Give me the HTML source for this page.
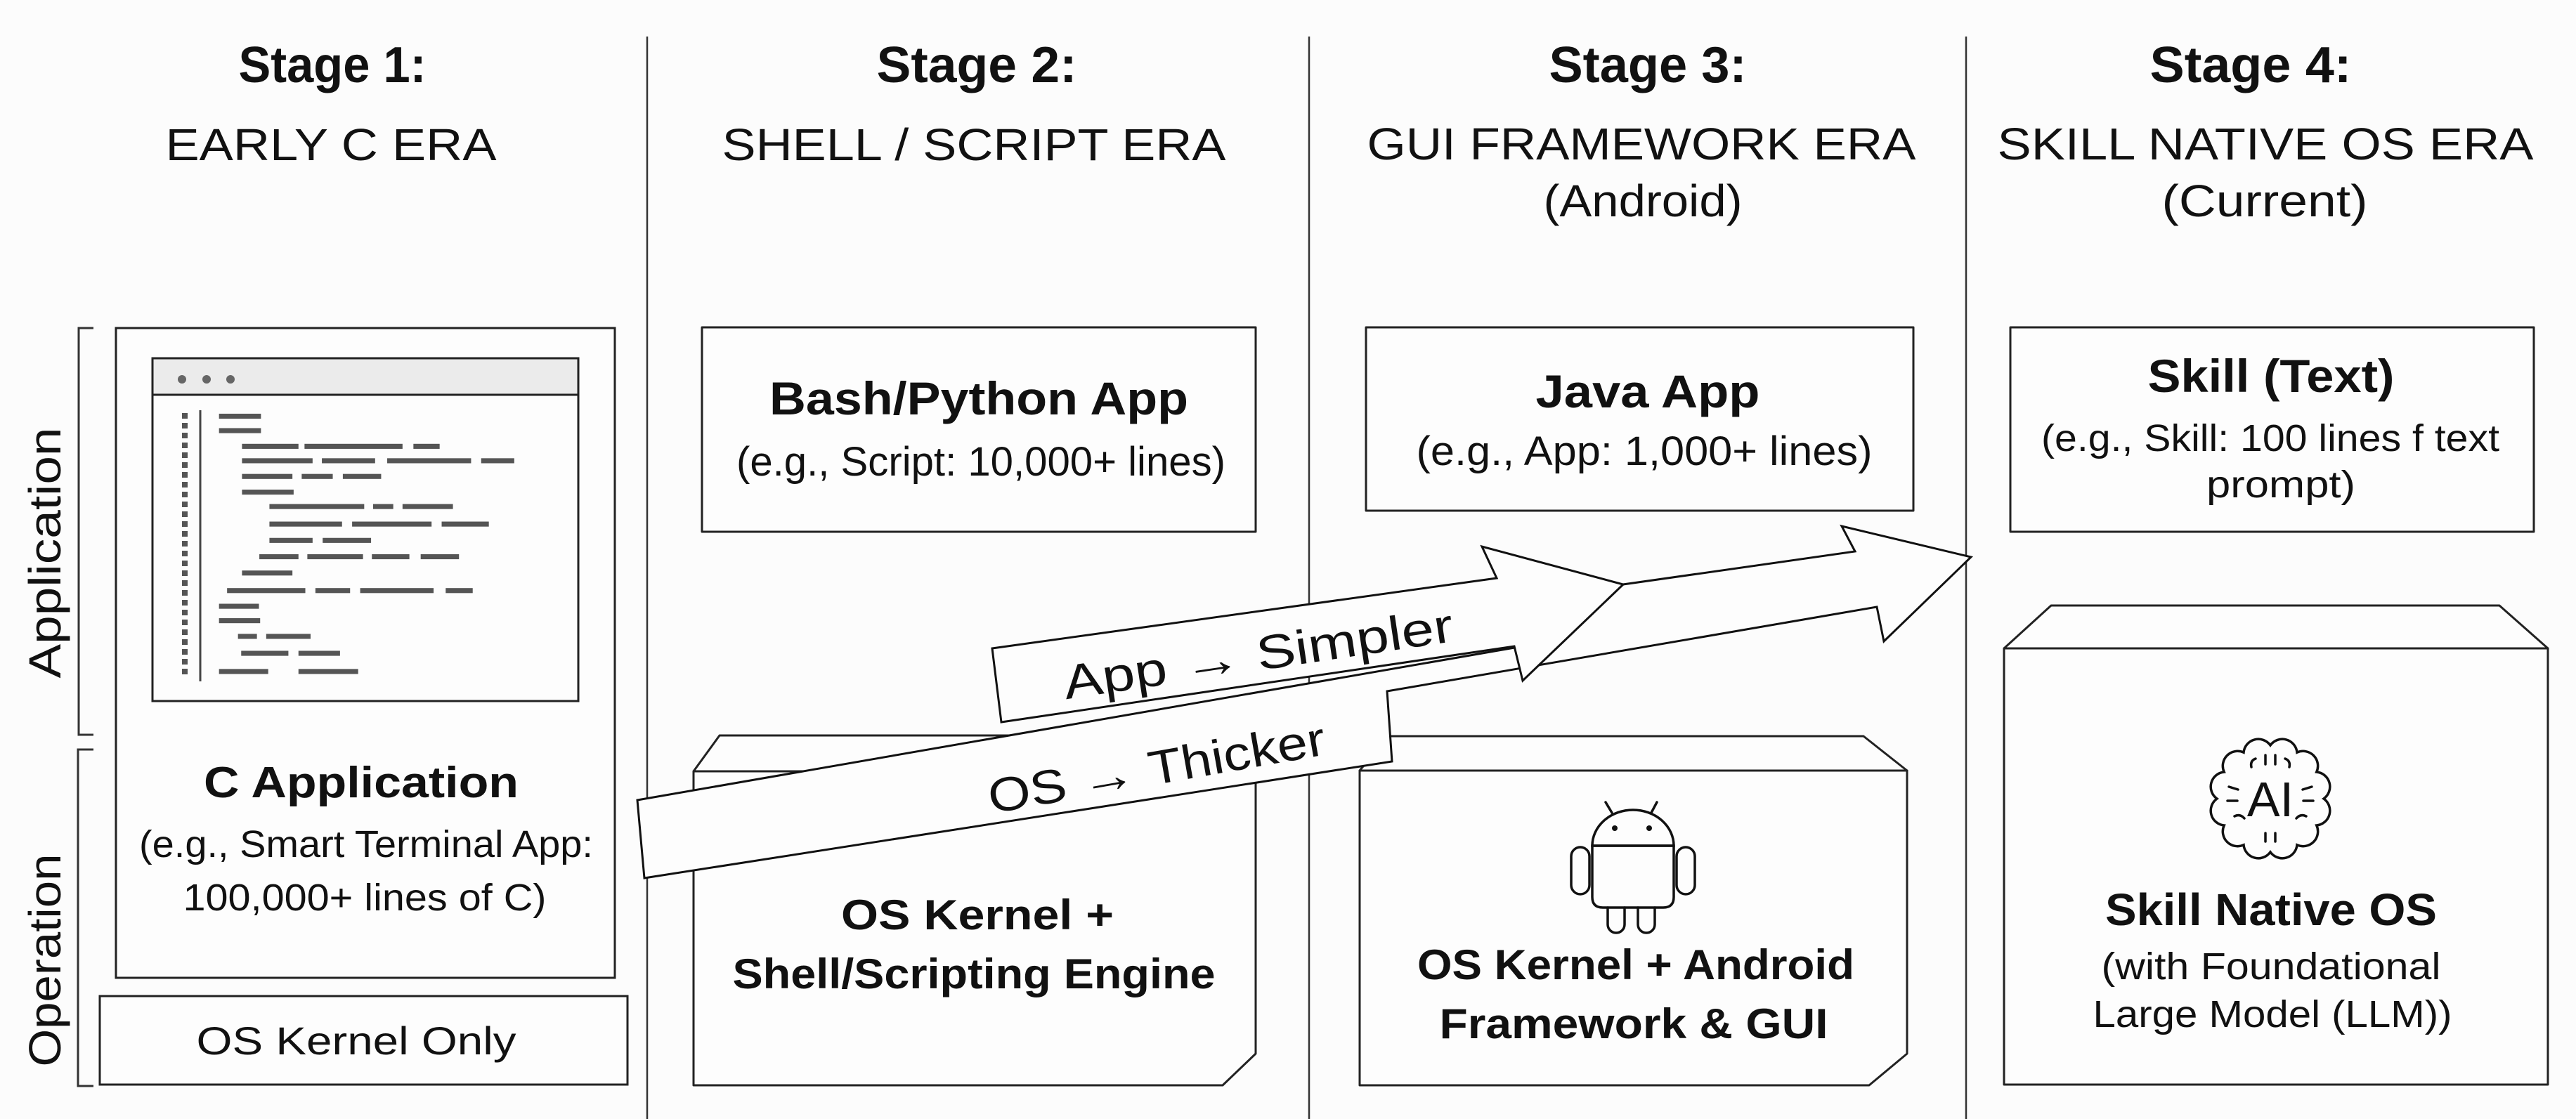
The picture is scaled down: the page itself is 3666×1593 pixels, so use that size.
<!DOCTYPE html>
<html><head><meta charset="utf-8"><style>
html,body{margin:0;padding:0;background:#fcfcfc;}
svg{display:block;}
text{font-family:"Liberation Sans",sans-serif;fill:#111;}
</style></head><body>
<svg width="3666" height="1593" viewBox="0 0 3666 1593" xmlns="http://www.w3.org/2000/svg">
<rect width="3666" height="1593" fill="#fcfcfc"/>
<g stroke="#333" stroke-width="2.5">
<line x1="921" y1="52" x2="921" y2="1593"/>
<line x1="1863" y1="52" x2="1863" y2="1593"/>
<line x1="2798" y1="52" x2="2798" y2="1593"/>
</g>
<!-- headers -->
<g text-anchor="middle">
<text x="473" y="117" font-size="72" font-weight="bold" textLength="267" lengthAdjust="spacingAndGlyphs">Stage 1:</text>
<text x="471" y="228" font-size="64" textLength="471" lengthAdjust="spacingAndGlyphs">EARLY C ERA</text>
<text x="1390" y="117" font-size="72" font-weight="bold" textLength="285" lengthAdjust="spacingAndGlyphs">Stage 2:</text>
<text x="1386" y="228" font-size="64" textLength="717" lengthAdjust="spacingAndGlyphs">SHELL / SCRIPT ERA</text>
<text x="2345" y="117" font-size="72" font-weight="bold" textLength="281" lengthAdjust="spacingAndGlyphs">Stage 3:</text>
<text x="2336" y="227" font-size="64" textLength="781" lengthAdjust="spacingAndGlyphs">GUI FRAMEWORK ERA</text>
<text x="2338" y="308" font-size="64" textLength="283" lengthAdjust="spacingAndGlyphs">(Android)</text>
<text x="3203" y="117" font-size="72" font-weight="bold" textLength="287" lengthAdjust="spacingAndGlyphs">Stage 4:</text>
<text x="3224" y="227" font-size="64" textLength="763" lengthAdjust="spacingAndGlyphs">SKILL NATIVE OS ERA</text>
<text x="3223" y="308" font-size="64" textLength="293" lengthAdjust="spacingAndGlyphs">(Current)</text>
</g>
<!-- brackets & side labels -->
<g stroke="#333" stroke-width="3" fill="none">
<polyline points="133,467 112,467 112,1046 133,1046"/>
<polyline points="133,1067 111,1067 111,1546 133,1546"/>
</g>
<text transform="translate(86,787) rotate(-90)" text-anchor="middle" font-size="64" textLength="357" lengthAdjust="spacingAndGlyphs">Application</text>
<text transform="translate(86,1367) rotate(-90)" text-anchor="middle" font-size="64" textLength="303" lengthAdjust="spacingAndGlyphs">Operation</text>

<!-- Stage 1 -->
<g stroke="#222" stroke-width="3" fill="#fdfdfd">
<rect x="165" y="467" width="710" height="925"/>
<rect x="142" y="1418" width="751" height="126"/>
<rect x="217" y="510" width="606" height="488"/>
<rect x="217" y="510" width="606" height="52" fill="#ebebeb"/>
</g>
<g fill="#666"><circle cx="259" cy="540" r="6"/><circle cx="294" cy="540" r="6"/><circle cx="328" cy="540" r="6"/></g>
<line x1="263" y1="588" x2="263" y2="960" stroke="#555" stroke-width="8" stroke-dasharray="8 6"/>
<line x1="285" y1="584" x2="285" y2="970" stroke="#444" stroke-width="3"/>
<g transform="translate(0,180) scale(0.5740,0.8929)" fill="#555">
<rect x="543" y="458" width="104" height="8"/>
<rect x="543" y="481" width="104" height="8"/>
<rect x="600" y="506" width="140" height="8"/><rect x="755" y="506" width="243" height="8"/><rect x="1025" y="506" width="65" height="8"/>
<rect x="600" y="529" width="175" height="8"/><rect x="798" y="529" width="132" height="8"/><rect x="960" y="529" width="208" height="8"/><rect x="1193" y="529" width="82" height="8"/>
<rect x="600" y="554" width="125" height="8"/><rect x="748" y="554" width="77" height="8"/><rect x="850" y="554" width="95" height="8"/>
<rect x="600" y="579" width="128" height="8"/>
<rect x="668" y="602" width="235" height="8"/><rect x="925" y="602" width="50" height="8"/><rect x="998" y="602" width="125" height="8"/>
<rect x="668" y="630" width="180" height="8"/><rect x="873" y="630" width="197" height="8"/><rect x="1095" y="630" width="117" height="8"/>
<rect x="668" y="656" width="107" height="8"/><rect x="800" y="656" width="120" height="8"/>
<rect x="643" y="682" width="97" height="8"/><rect x="762" y="682" width="138" height="8"/><rect x="922" y="682" width="93" height="8"/><rect x="1043" y="682" width="95" height="8"/>
<rect x="600" y="708" width="125" height="8"/>
<rect x="563" y="736" width="194" height="8"/><rect x="782" y="736" width="86" height="8"/><rect x="893" y="736" width="182" height="8"/><rect x="1105" y="736" width="67" height="8"/>
<rect x="543" y="761" width="99" height="8"/>
<rect x="543" y="784" width="102" height="8"/>
<rect x="590" y="809" width="47" height="8"/><rect x="660" y="809" width="110" height="8"/>
<rect x="598" y="836" width="117" height="8"/><rect x="740" y="836" width="103" height="8"/>
<rect x="543" y="865" width="122" height="8"/><rect x="740" y="865" width="148" height="8"/>
</g>
<g text-anchor="middle">
<text x="514" y="1135" font-size="62" font-weight="bold" textLength="448" lengthAdjust="spacingAndGlyphs">C Application</text>
<text x="521" y="1220" font-size="54" textLength="646" lengthAdjust="spacingAndGlyphs">(e.g., Smart Terminal App:</text>
<text x="519" y="1296" font-size="54" textLength="517" lengthAdjust="spacingAndGlyphs">100,000+ lines of C)</text>
<text x="507" y="1501" font-size="56" textLength="455" lengthAdjust="spacingAndGlyphs">OS Kernel Only</text>
</g>

<!-- Stage 2 -->
<g stroke="#222" stroke-width="3" fill="#fdfdfd" stroke-linejoin="round">
<rect x="999" y="466" width="788" height="291"/>
<path d="M987,1098 L1024,1047 L1750,1047 L1787,1098 Z"/>
<path d="M987,1098 L1787,1098 L1787,1500 L1740,1545 L987,1545 Z"/>
</g>
<g text-anchor="middle">
<text x="1393" y="590" font-size="66" font-weight="bold" textLength="596" lengthAdjust="spacingAndGlyphs">Bash/Python App</text>
<text x="1396" y="677" font-size="58" textLength="696" lengthAdjust="spacingAndGlyphs">(e.g., Script: 10,000+ lines)</text>
<text x="1391" y="1323" font-size="60" font-weight="bold" textLength="388" lengthAdjust="spacingAndGlyphs">OS Kernel +</text>
<text x="1386" y="1407" font-size="60" font-weight="bold" textLength="687" lengthAdjust="spacingAndGlyphs">Shell/Scripting Engine</text>
</g>

<!-- Stage 3 -->
<g stroke="#222" stroke-width="3" fill="#fdfdfd" stroke-linejoin="round">
<rect x="1944" y="466" width="779" height="261"/>
<path d="M1935,1097 L1975,1048 L2652,1048 L2714,1097 Z"/>
<path d="M1935,1097 L2714,1097 L2714,1500 L2660,1545 L1935,1545 Z"/>
</g>
<g text-anchor="middle">
<text x="2345" y="580" font-size="66" font-weight="bold" textLength="319" lengthAdjust="spacingAndGlyphs">Java App</text>
<text x="2340" y="662" font-size="58" textLength="649" lengthAdjust="spacingAndGlyphs">(e.g., App: 1,000+ lines)</text>
<text x="2328" y="1394" font-size="60" font-weight="bold" textLength="622" lengthAdjust="spacingAndGlyphs">OS Kernel + Android</text>
<text x="2325" y="1478" font-size="60" font-weight="bold" textLength="553" lengthAdjust="spacingAndGlyphs">Framework &amp; GUI</text>
</g>
<!-- android -->
<g stroke="#111" stroke-width="3.5" fill="none" stroke-linecap="round">
<path d="M2266,1204 A58,51 0 0 1 2382,1204 Z"/>
<path d="M2266,1204 L2382,1204 L2382,1277 Q2382,1292 2367,1292 L2281,1292 Q2266,1292 2266,1277 Z"/>
<rect x="2236" y="1206" width="26" height="67" rx="13"/>
<rect x="2386" y="1206" width="26" height="67" rx="13"/>
<path d="M2288,1292 L2288,1316 A12,12 0 0 0 2312,1316 L2312,1292"/>
<path d="M2331,1292 L2331,1316 A12,12 0 0 0 2355,1316 L2355,1292"/>
<line x1="2285" y1="1142" x2="2294" y2="1157"/>
<line x1="2358" y1="1142" x2="2350" y2="1157"/>
</g>
<circle cx="2298" cy="1179" r="4" fill="#111"/><circle cx="2347" cy="1179" r="4" fill="#111"/>

<!-- Stage 4 -->
<g stroke="#222" stroke-width="3" fill="#fdfdfd" stroke-linejoin="round">
<rect x="2861" y="466" width="745" height="291"/>
<path d="M2852,923 L2919,862 L3557,862 L3626,923 Z"/>
<rect x="2852" y="923" width="774" height="621"/>
</g>
<g text-anchor="middle">
<text x="3232" y="558" font-size="66" font-weight="bold" textLength="351" lengthAdjust="spacingAndGlyphs">Skill (Text)</text>
<text x="3231" y="642" font-size="54" textLength="652" lengthAdjust="spacingAndGlyphs">(e.g., Skill: 100 lines f text</text>
<text x="3246" y="708" font-size="54" textLength="212" lengthAdjust="spacingAndGlyphs">prompt)</text>
<text x="3232" y="1317" font-size="64" font-weight="bold" textLength="472" lengthAdjust="spacingAndGlyphs">Skill Native OS</text>
<text x="3232" y="1394" font-size="54" textLength="483" lengthAdjust="spacingAndGlyphs">(with Foundational</text>
<text x="3234" y="1462" font-size="54" textLength="511" lengthAdjust="spacingAndGlyphs">Large Model (LLM))</text>
</g>
<!-- brain -->
<g stroke="#111" stroke-width="3.5" fill="none" stroke-linecap="round">
<path d="M3307,1137 A21,21 0 0 1 3296.8,1175 A21,21 0 0 1 3269,1202.8 A21,21 0 0 1 3231,1213 A21,21 0 0 1 3193,1202.8 A21,21 0 0 1 3165.2,1175 A21,21 0 0 1 3155,1137 A21,21 0 0 1 3165.2,1099 A21,21 0 0 1 3193,1071.2 A21,21 0 0 1 3231,1061 A21,21 0 0 1 3269,1071.2 A21,21 0 0 1 3296.8,1099 A21,21 0 0 1 3307,1137 Z"/>
<path d="M3224,1075 L3224,1088 M3238,1075 L3238,1088 M3252,1080 Q3260,1083 3258,1092 M3210,1080 Q3202,1083 3204,1092 M3172,1120 L3185,1124 M3170,1140 L3184,1140 M3290,1120 L3277,1124 M3292,1140 L3278,1140 M3180,1162 Q3188,1158 3194,1165 M3282,1162 Q3274,1158 3268,1165 M3224,1186 L3224,1198 M3238,1186 L3238,1198"/>
</g>
<text x="3231" y="1162" text-anchor="middle" font-size="70">AI</text>

<!-- arrows -->
<g stroke="#111" stroke-width="3" fill="#fdfdfd" stroke-linejoin="miter">
<path d="M907,1139 L2161,921 L2310,832 L2640,785 L2621,749 L2805,793 L2681,913 L2671,864 L1974,984 L1981,1084 L917,1250 Z"/>
<path d="M1412,923 L2130,823 L2109,778 L2310,832 L2167,969 L2155,920 L1425,1028 Z"/>
</g>
<text transform="translate(1794,954) rotate(-8.5)" text-anchor="middle" font-size="68" textLength="560" lengthAdjust="spacingAndGlyphs">App → Simpler</text>
<text transform="translate(1650,1116) rotate(-10)" text-anchor="middle" font-size="68" textLength="486" lengthAdjust="spacingAndGlyphs">OS → Thicker</text>
</svg>
</body></html>
